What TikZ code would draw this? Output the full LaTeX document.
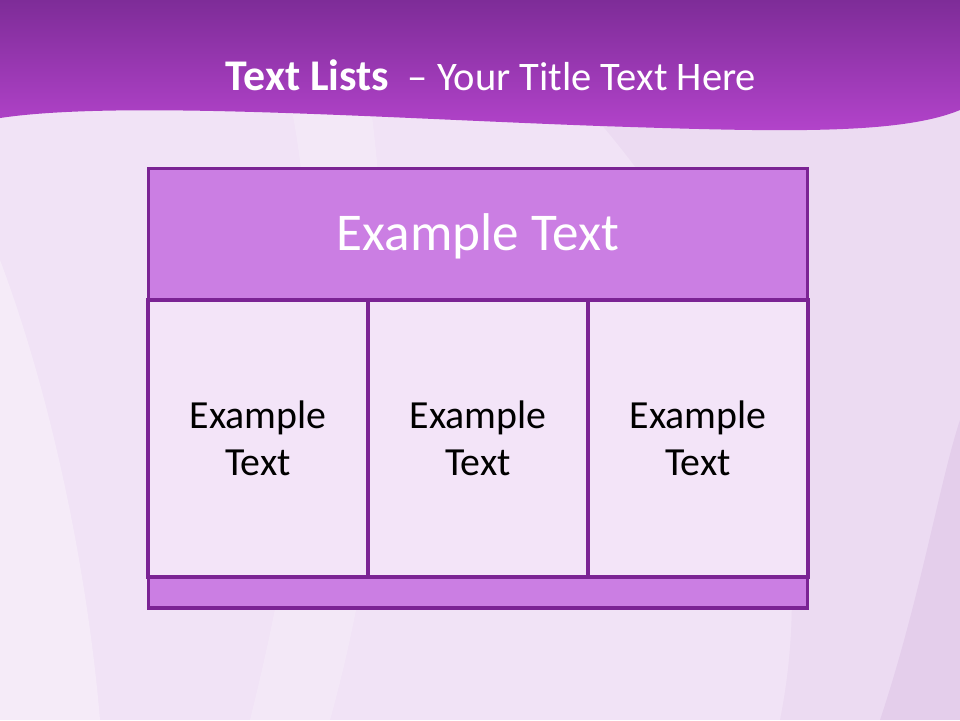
\documentclass[tikz,border=0pt]{standalone}
\usepackage{fontspec}
\setmainfont{Carlito}
\usepackage{xcolor}
\usetikzlibrary{positioning}

\definecolor{bgLight}{HTML}{F1E3F6}
\definecolor{bandTop}{HTML}{7E2C98}
\definecolor{bandBot}{HTML}{B444CC}
\definecolor{headFill}{HTML}{CB7EE3}
\definecolor{cellFill}{HTML}{F3E4F8}
\definecolor{edgeCol}{HTML}{7B2394}

\tikzset{
  tablebox/.style={draw=edgeCol, line width=2.3pt, inner sep=0pt, outer sep=0pt},
  headbox/.style={tablebox, fill=headFill, minimum width=17.46cm, minimum height=3.49cm,
    text=white, font=\fontsize{40}{48}\selectfont},
  cellbox/.style={tablebox, fill=cellFill, minimum width=5.82cm, minimum height=7.33cm,
    align=center, font=\fontsize{30}{35}\selectfont},
  footbox/.style={tablebox, fill=headFill, minimum width=17.46cm, minimum height=0.82cm}
}

\begin{document}
\begin{tikzpicture}[x=0.026458cm, y=-0.026458cm]
    \useasboundingbox (0,0) rectangle (960,720);

    % Background
    \fill[bgLight] (0,0) rectangle (960,720);
    \fill[white, opacity=0.3] (0,260) .. controls (60,420) and (90,600) .. (100,720) -- (0,720) -- cycle;
    \fill[white, opacity=0.2] (250,720) .. controls (300,520) and (330,300) .. (290,100)
        -- (370,100) .. controls (400,330) and (380,540) .. (330,720) -- cycle;
    \fill[edgeCol, opacity=0.04] (580,100) .. controls (760,300) and (820,520) .. (780,720) -- (960,720) -- (960,100) -- cycle;
    \fill[edgeCol, opacity=0.07] (880,720) .. controls (920,600) and (940,480) .. (960,420) -- (960,720) -- cycle;

    % Title band
    \shade[top color=bandTop, bottom color=bandBot]
        (0,0) -- (960,0) -- (960,110)
        .. controls (900,135) and (780,132) .. (600,126)
        .. controls (380,118) and (120,100) .. (0,118) -- cycle;
    \node[text=white, font=\fontsize{30.5}{36}\selectfont] (title) at (491,75)
        {\textbf{\fontsize{33}{38}\selectfont Text Lists}\ \ -- Your Title Text Here};

    % Table
    \node[headbox] (head) at (478,234) {};
    \node[text=white, font=\fontsize{40}{48}\selectfont] (headtext) at (478,236) {Example Text};
    \node[cellbox] (cellA) at (258,438.5) {Example\\Text};
    \node[cellbox] (cellB) at (478,438.5) {Example\\Text};
    \node[cellbox] (cellC) at (698,438.5) {Example\\Text};
    \node[footbox] (foot) at (478,592.5) {};

\end{tikzpicture}
\end{document}
